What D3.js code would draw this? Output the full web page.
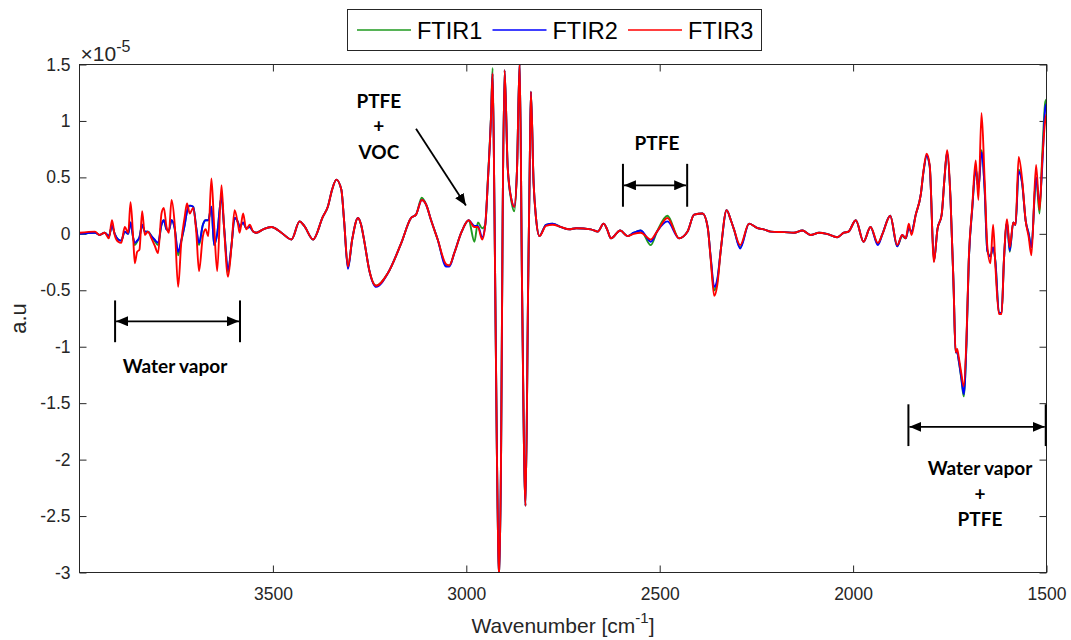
<!DOCTYPE html>
<html><head><meta charset="utf-8">
<script src="https://cdn.jsdelivr.net/npm/d3@7"></script>
<style>body{margin:0;background:#fff} svg{display:block}</style>
</head><body>
<svg id="c" width="1071" height="640"></svg>
<script>
// ---- data (values in units of 1e-5) ----
const wavenumbers = [
4000,3960,3948,3935,3924,3916,3909,3900,3892,3883,
3874,3868,3861,3857,3851,3845,3838,3831,3823,3814,
3806,3797,3788,3782,3775,3769,3762,3754,3745,3737,
3728,3722,3715,3706,3698,3691,3681,3674,3667,3659,
3652,3644,3633,3626,3616,3607,3599,3590,3586,3577,
3569,3560,3551,3543,3525,3504,3478,3452,3431,3419,
3396,3371,3358,3347,3336,3323,3316,3306,3295,3280,
3272,3263,3251,3233,3203,3168,3143,3130,3115,3104,
3091,3074,3052,3044,3031,3013,2994,2979,2970,2959,
2951,2944,2936,2932,2927,2921,2915,2910,2906,2901,
2893,2883,2876,2869,2862,2856,2847,2840,2836,2833,
2826,2820,2811,2794,2777,2755,2734,2716,2678,2660,
2645,2636,2626,2602,2583,2567,2549,2523,2507,2480,
2450,2428,2411,2389,2376,2368,2359,2351,2342,2327,
2316,2308,2292,2269,2247,2231,2213,2178,2153,2131,
2110,2088,2068,2041,2024,2012,1993,1973,1955,1936,
1924,1904,1886,1873,1864,1856,1849,1838,1825,1818,
1810,1802,1791,1782,1771,1764,1757,1748,1740,1735,
1731,1727,1720,1714,1707,1701,1692,1683,1676,1668,
1660,1653,1645,1638,1632,1623,1616,1610,1602,1595,
1586,1580,1572,1563,1554,1546,1539,1527,1518,1511,
1503,1500];

const ftir1 = [
0.00,0.01,-0.01,0.01,-0.02,0.07,0.00,-0.05,-0.06,0.02,
0.00,0.10,-0.04,-0.10,-0.07,-0.03,0.08,0.02,0.02,-0.02,
-0.06,-0.10,0.08,0.12,0.04,0.03,0.12,0.05,-0.19,-0.07,
0.08,0.20,0.25,0.24,0.05,-0.10,0.08,0.12,0.12,0.24,
-0.10,0.00,0.33,0.05,-0.34,-0.10,0.14,0.10,0.06,0.10,
0.05,0.06,0.02,0.01,0.04,0.06,0.01,-0.05,0.11,0.07,
-0.05,0.15,0.24,0.39,0.48,0.39,0.12,-0.30,-0.05,0.14,
0.08,-0.08,-0.32,-0.46,-0.35,-0.08,0.14,0.17,0.32,0.26,
0.12,-0.05,-0.28,-0.28,-0.17,0.01,0.12,-0.07,0.10,0.05,
0.08,0.50,1.06,1.47,0.15,-1.91,-3.05,-1.91,0.15,1.45,
0.59,0.28,0.20,0.56,1.52,-0.43,-2.41,-0.43,0.60,1.26,
0.45,0.15,-0.02,0.08,0.09,0.06,0.04,0.05,0.04,0.02,
0.09,0.04,-0.04,0.03,-0.02,0.01,0.03,-0.10,0.02,0.16,
-0.04,0.02,0.17,0.18,0.06,-0.22,-0.50,-0.42,-0.14,0.21,
0.12,0.04,-0.12,0.09,0.05,0.04,0.02,0.015,0.01,0.03,
-0.01,0.01,0.00,-0.03,0.01,0.02,0.12,-0.07,0.06,-0.09,
0.00,0.16,-0.11,-0.02,-0.04,0.05,0.02,0.17,0.35,0.55,
0.69,0.60,-0.24,0.04,0.17,0.48,0.72,0.30,-0.49,-1.05,
-1.05,-1.12,-1.29,-1.44,-0.98,-0.25,0.22,0.58,0.40,0.74,
0.40,-0.15,-0.20,-0.12,-0.25,-0.70,-0.70,-0.23,0.10,-0.16,
0.10,0.08,0.57,0.45,0.12,0.00,-0.12,0.50,0.18,0.70,
1.17,1.19];

const ftir2 = [
0.00,0.01,-0.01,0.01,-0.02,0.07,0.00,-0.05,-0.06,0.02,
0.00,0.10,-0.04,-0.08,-0.06,-0.03,0.08,0.02,0.02,-0.02,
-0.05,-0.08,0.08,0.12,0.04,0.03,0.12,0.05,-0.16,-0.06,
0.08,0.20,0.25,0.24,0.05,-0.08,0.08,0.12,0.12,0.24,
-0.10,0.00,0.33,0.05,-0.32,-0.10,0.14,0.10,0.06,0.10,
0.05,0.06,0.02,0.01,0.04,0.06,0.01,-0.05,0.11,0.07,
-0.05,0.15,0.24,0.39,0.48,0.39,0.12,-0.31,-0.05,0.14,
0.08,-0.08,-0.32,-0.47,-0.35,-0.08,0.14,0.17,0.30,0.26,
0.12,-0.05,-0.29,-0.29,-0.17,0.01,0.12,0.07,0.07,-0.03,
0.08,0.48,1.04,1.42,0.15,-1.91,-3.05,-1.91,0.15,1.45,
0.59,0.30,0.24,0.56,1.52,-0.43,-2.41,-0.43,0.60,1.26,
0.45,0.15,-0.02,0.08,0.09,0.06,0.04,0.05,0.04,0.02,
0.09,0.04,-0.04,0.03,-0.02,0.01,0.03,-0.07,0.02,0.11,
-0.04,0.02,0.17,0.18,0.06,-0.21,-0.47,-0.40,-0.14,0.21,
0.12,0.04,-0.13,0.09,0.05,0.04,0.02,0.015,0.01,0.03,
-0.01,0.01,0.00,-0.03,0.01,0.02,0.12,-0.07,0.06,-0.10,
0.00,0.16,-0.11,-0.01,-0.04,0.05,0.02,0.17,0.35,0.55,
0.69,0.60,-0.24,0.04,0.17,0.48,0.72,0.30,-0.49,-1.05,
-1.05,-1.12,-1.28,-1.42,-0.98,-0.25,0.22,0.58,0.40,0.72,
0.40,-0.15,-0.20,-0.12,-0.25,-0.70,-0.70,-0.23,0.10,-0.15,
0.10,0.08,0.55,0.45,0.12,0.00,-0.12,0.50,0.26,0.60,
1.12,1.15];

const ftir3 = [
0.01,0.02,-0.01,0.01,-0.04,0.12,-0.01,-0.07,-0.08,0.06,
0.01,0.28,-0.05,-0.26,-0.16,-0.14,0.20,-0.01,0.02,-0.04,
-0.10,-0.17,0.18,0.23,0.06,0.01,0.30,0.09,-0.47,-0.08,
0.15,0.27,0.18,0.23,0.01,-0.33,-0.02,0.04,-0.02,0.49,
0.08,-0.33,0.43,0.04,-0.38,-0.11,0.21,0.08,0.01,0.18,
0.04,0.08,0.02,0.01,0.04,0.06,0.01,-0.05,0.11,0.07,
-0.05,0.15,0.24,0.39,0.48,0.39,0.12,-0.29,-0.05,0.14,
0.08,-0.08,-0.32,-0.46,-0.35,-0.08,0.14,0.17,0.30,0.26,
0.12,-0.05,-0.27,-0.28,-0.17,0.01,0.12,0.06,0.06,-0.05,
0.08,0.48,1.04,1.42,0.15,-1.91,-3.05,-1.91,0.15,1.45,
0.59,0.30,0.24,0.56,1.52,-0.43,-2.41,-0.43,0.60,1.26,
0.45,0.15,-0.02,0.07,0.08,0.06,0.04,0.05,0.04,0.02,
0.09,0.04,-0.04,0.03,-0.02,0.00,0.01,-0.05,0.02,0.14,
-0.04,0.02,0.17,0.18,0.06,-0.23,-0.55,-0.45,-0.14,0.21,
0.12,0.04,-0.10,0.09,0.05,0.04,0.02,0.015,0.01,0.03,
-0.01,0.01,0.00,-0.03,0.01,0.02,0.12,-0.07,0.06,-0.08,
0.00,0.16,-0.10,-0.01,-0.04,0.09,-0.01,0.17,0.35,0.56,
0.71,0.61,-0.25,0.04,0.17,0.48,0.74,0.30,-0.49,-1.05,
-1.02,-1.09,-1.24,-1.35,-0.94,-0.23,0.24,0.65,0.30,1.07,
0.48,-0.11,-0.26,0.08,-0.29,-0.71,-0.71,-0.23,0.13,-0.12,
0.10,0.08,0.68,0.48,0.12,-0.03,-0.19,0.61,0.21,0.65,
1.01,1.06];

const seriesNames = ["FTIR1", "FTIR2", "FTIR3"];
const seriesValues = [ftir1, ftir2, ftir3];
const xTickValues = [3500, 3000, 2500, 2000, 1500];
const yTickValues = [-3, -2.5, -2, -1.5, -1, -0.5, 0, 0.5, 1, 1.5];
const annotationTexts = [["PTFE", "+", "VOC"], ["PTFE"], ["Water vapor"], ["Water vapor", "+", "PTFE"]];

// ---- drawing ----
const colors = ["#1f9a1f", "#0000ff", "#ff0000"];
const svg = d3.select("#c");
const L = 79.5, R = 1046.5, T = 64.5, B = 572.5;
const x = d3.scaleLinear().domain([4000, 1500]).range([L, R]);
const y = d3.scaleLinear().domain([-3, 1.5]).range([B, T]);
const axisColor = "#262626";
const tickFont = "Liberation Sans, Arial, sans-serif";

svg.append("defs").append("clipPath").attr("id", "clip")
  .append("rect").attr("x", L).attr("y", T).attr("width", R - L).attr("height", B - T);

// axes
const gx = svg.append("g").attr("transform", `translate(0,${B})`)
  .call(d3.axisBottom(x).tickValues(xTickValues).tickSize(-7).tickPadding(15).tickFormat(d3.format("d")));
const gxTop = svg.append("g").attr("transform", `translate(0,${T})`)
  .call(d3.axisTop(x).tickValues(xTickValues).tickSize(-7).tickFormat(""));
const gy = svg.append("g").attr("transform", `translate(${L},0)`)
  .call(d3.axisLeft(y).tickValues(yTickValues).tickSize(-7).tickPadding(9).tickFormat(d => String(d)));
const gyR = svg.append("g").attr("transform", `translate(${R},0)`)
  .call(d3.axisRight(y).tickValues(yTickValues).tickSize(-7).tickFormat(""));
[gx, gxTop, gy, gyR].forEach(g => {
  g.select(".domain").remove();
  g.selectAll(".tick line").attr("stroke", axisColor).attr("stroke-width", 1);
  g.selectAll(".tick text").attr("fill", axisColor).attr("font-family", tickFont).attr("font-size", 17.5);
});

// series
const line = d3.line().curve(d3.curveMonotoneX)
  .x((d, i) => x(wavenumbers[i])).y(d => y(d));
const plot = svg.append("g").attr("clip-path", "url(#clip)");
seriesValues.forEach((vals, k) => {
  plot.append("path").datum(vals).attr("d", line)
    .attr("fill", "none").attr("stroke", colors[k]).attr("stroke-width", 1.9)
    .attr("stroke-linejoin", "round");
});

// box
svg.append("rect").attr("x", L).attr("y", T).attr("width", R - L).attr("height", B - T)
  .attr("fill", "none").attr("stroke", axisColor).attr("stroke-width", 1);

// exponent
const ex = svg.append("text").attr("x", L + 1).attr("y", T - 4)
  .attr("font-family", tickFont).attr("font-size", 21).attr("fill", axisColor);
ex.append("tspan").text("\u00d710");
ex.append("tspan").attr("font-size", 16).attr("dy", -9).text("-5");

// axis titles
const xt = svg.append("text").attr("x", (L + R) / 2).attr("y", 633)
  .attr("text-anchor", "middle").attr("font-family", tickFont).attr("font-size", 21).attr("fill", axisColor);
xt.append("tspan").text("Wavenumber [cm");
xt.append("tspan").attr("font-size", 15).attr("dy", -10).text("-1");
xt.append("tspan").attr("dy", 10).text("]");
svg.append("text").attr("transform", `translate(26,${(T + B) / 2}) rotate(-90)`)
  .attr("text-anchor", "middle").attr("font-family", tickFont).attr("font-size", 22).attr("fill", axisColor)
  .text("a.u");

// legend
const lg = svg.append("g");
lg.append("rect").attr("x", 347.5).attr("y", 9.5).attr("width", 414).attr("height", 41)
  .attr("fill", "#fff").attr("stroke", axisColor);
seriesNames.forEach((n, k) => {
  const x0 = 357 + k * 135.5;
  lg.append("line").attr("x1", x0).attr("x2", x0 + 54).attr("y1", 30).attr("y2", 30)
    .attr("stroke", colors[k]).attr("stroke-width", 1.3);
  lg.append("text").attr("x", x0 + 60).attr("y", 38.5).attr("font-family", tickFont)
    .attr("font-size", 23.5).attr("fill", "#000").text(n);
});

// annotations
const defs = svg.select("defs");
defs.append("marker").attr("id", "ah").attr("viewBox", "0 0 12 10").attr("refX", 12).attr("refY", 5)
  .attr("markerWidth", 12).attr("markerHeight", 10).attr("markerUnits", "userSpaceOnUse")
  .attr("orient", "auto-start-reverse")
  .append("path").attr("d", "M0,0 L12,5 L0,10 Z").attr("fill", "#000");
const annFont = "Lato, 'Open Sans', sans-serif";
function textBlock(lines, wx, vys) {
  lines.forEach((t, i) => {
    svg.append("text").attr("x", x(wx)).attr("y", y(vys[i])).attr("dy", "0.35em")
      .attr("text-anchor", "middle").attr("font-family", annFont).attr("font-weight", 700)
      .attr("font-size", 19).attr("fill", "#000").text(t);
  });
}
function span(w1, w2, vTop, vBot, vMid) {
  [w1, w2].forEach(w => svg.append("line").attr("x1", x(w)).attr("x2", x(w))
    .attr("y1", y(vTop)).attr("y2", y(vBot)).attr("stroke", "#000").attr("stroke-width", 2));
  svg.append("line").attr("x1", x(w1) + 1).attr("x2", x(w2) - 1).attr("y1", y(vMid)).attr("y2", y(vMid))
    .attr("stroke", "#000").attr("stroke-width", 1.8)
    .attr("marker-start", "url(#ah)").attr("marker-end", "url(#ah)");
}
textBlock(annotationTexts[0], 3226, [1.17, 0.95, 0.72]);
svg.append("line").attr("x1", x(3130)).attr("y1", y(0.93)).attr("x2", x(3001)).attr("y2", y(0.25))
  .attr("stroke", "#000").attr("stroke-width", 1.8).attr("marker-end", "url(#ah)");
textBlock(annotationTexts[1], 2507, [0.80]);
span(2595, 2429, 0.62, 0.24, 0.43);
textBlock(annotationTexts[2], 3753, [-1.17]);
span(3908, 3585, -0.59, -0.96, -0.775);
textBlock(annotationTexts[3], 1672, [-2.08, -2.31, -2.53]);
span(1857, 1502, -1.51, -1.88, -1.71);
</script>
</body></html>
